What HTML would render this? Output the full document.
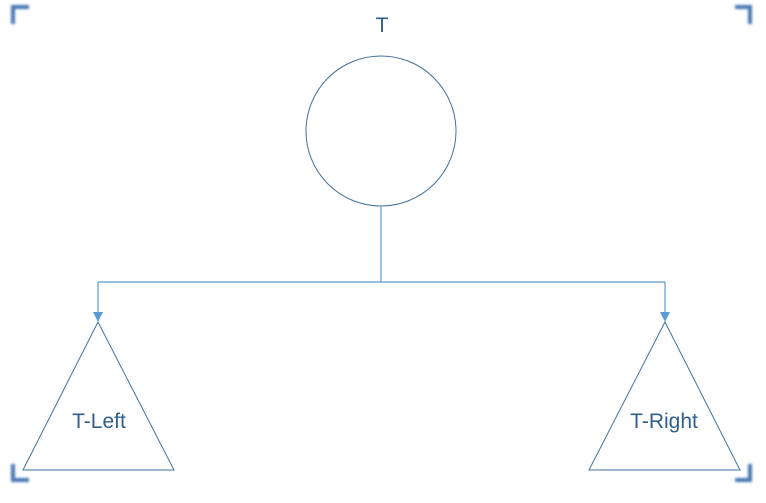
<!DOCTYPE html>
<html><head><meta charset="utf-8"><style>
html,body{margin:0;padding:0;background:#fff;width:766px;height:503px;overflow:hidden}
svg{display:block}
text{font-family:"Liberation Sans",sans-serif;font-size:21px;fill:#2f5f8f}
</style></head><body>
<svg width="766" height="503" viewBox="0 0 766 503">
<defs><filter id="b" x="-50%" y="-50%" width="200%" height="200%"><feGaussianBlur stdDeviation="1.2"/></filter></defs>
<g stroke="#4477b4" stroke-width="4" fill="none" filter="url(#b)">
<path d="M13 24 V7 H29"/>
<path d="M735 7 H750 V24"/>
<path d="M13 464 V480 H29"/>
<path d="M735 480 H750 V464"/>
</g>
<text x="382" y="32" text-anchor="middle">T</text>
<circle cx="381" cy="131" r="75" fill="none" stroke="#41719c" stroke-width="1"/>
<g stroke="#5b9bd5" stroke-width="1.2" fill="none">
<path d="M381 206 V282 M98 282 H665 M98 282 V312 M665 282 V312"/>
</g>
<polygon points="93,312 103,312 98,322" fill="#5b9bd5"/>
<polygon points="660,312 670,312 665,322" fill="#5b9bd5"/>
<polygon points="98,322 174,470 23,470" fill="none" stroke="#41719c" stroke-width="1"/>
<polygon points="665,322 740,470 589,470" fill="none" stroke="#41719c" stroke-width="1"/>
<text x="99" y="428" text-anchor="middle">T-Left</text>
<text x="664" y="428" text-anchor="middle">T-Right</text>
</svg>
</body></html>
